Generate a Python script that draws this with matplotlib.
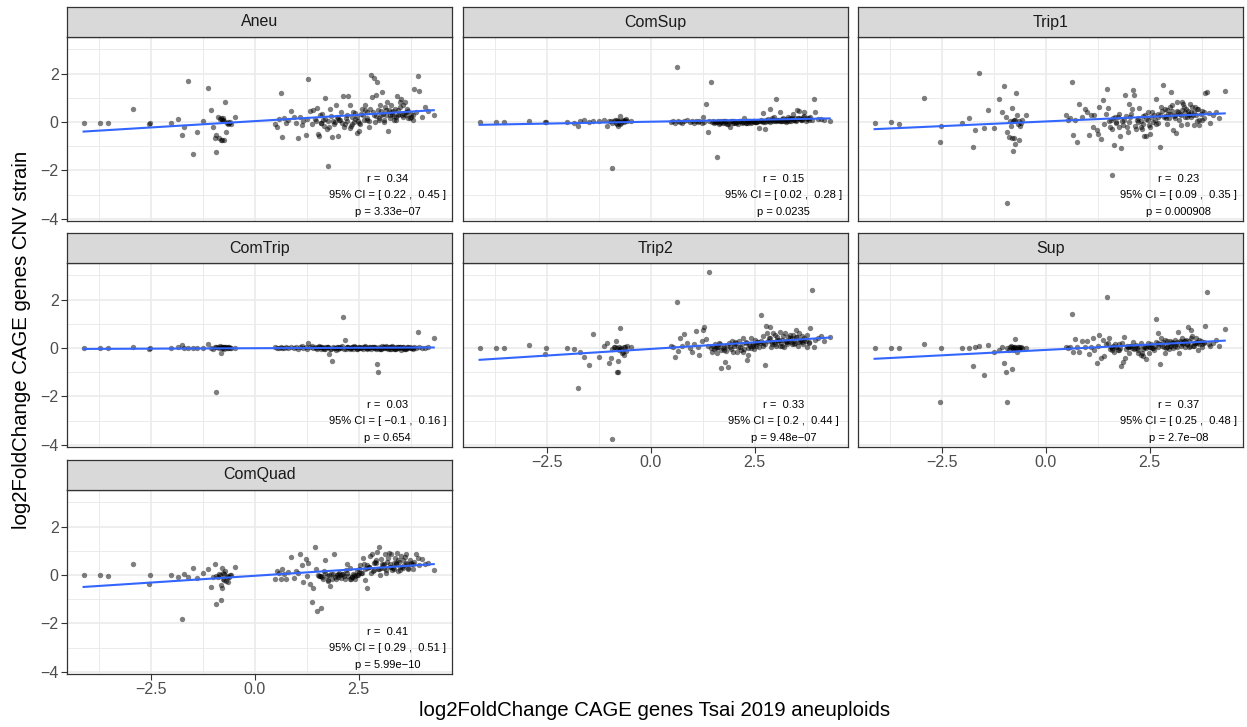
import numpy as np
import matplotlib
matplotlib.use("Agg")
import matplotlib.pyplot as plt

plt.rcParams['font.family'] = ['Liberation Sans', 'DejaVu Sans']

# facet order as in the figure (facet_wrap, 3 columns)
panels = ["Aneu", "ComSup", "Trip1", "ComTrip", "Trip2", "Sup", "ComQuad"]

# x: log2FoldChange of CAGE genes in Tsai 2019 aneuploids (same genes in every panel)
x_left = [-4.13, -3.73, -3.53, -2.93, -2.55, -2.52, -2.02, -1.85, -1.77, -1.70,
          -1.62, -1.50, -1.40, -1.25, -1.12, -1.05, -1.00, -0.97, -0.95, -0.93,
          -0.90, -0.87, -0.85, -0.83, -0.82, -0.80, -0.79, -0.78, -0.76, -0.75,
          -0.74, -0.72, -0.70, -0.68, -0.66, -0.65, -0.62, -0.60, -0.58, -0.47]
x_right = [0.48, 0.53, 0.57, 0.63, 0.66, 0.71, 0.75, 0.80, 0.86, 0.93,
           0.98, 1.04, 1.09, 1.13, 1.17, 1.22, 1.26, 1.29, 1.33, 1.37,
           1.40, 1.44, 1.47, 1.50, 1.52, 1.55, 1.59, 1.61, 1.64, 1.68,
           1.70, 1.73, 1.77, 1.79, 1.82, 1.86, 1.88, 1.91, 1.95, 1.98,
           2.01, 2.03, 2.07, 2.10, 2.12, 2.16, 2.19, 2.21, 2.25, 2.28,
           2.31, 2.33, 2.36, 2.40, 2.42, 2.45, 2.49, 2.51, 2.54, 2.58,
           2.60, 2.63, 2.66, 2.69, 2.71, 2.74, 2.78, 2.80, 2.83, 2.86,
           2.88, 2.91, 2.94, 2.97, 2.99, 3.02, 3.05, 3.07, 3.10, 3.13,
           3.15, 3.18, 3.21, 3.23, 3.26, 3.29, 3.31, 3.34, 3.37, 3.39,
           3.42, 3.45, 3.47, 3.50, 3.53, 3.56, 3.58, 3.61, 3.64, 3.67,
           3.70, 3.73, 3.77, 3.80, 3.84, 3.88, 3.92, 3.96, 4.02, 4.10,
           4.18, 4.31]
x_extra = [1.56, 1.66, 1.75, 1.84, 1.93, 2.05, 2.14, 2.23, 2.30, 2.38,
           2.47, 2.56, 2.65, 2.76, 2.85, 2.93, 3.00, 3.09, 3.17, 3.25,
           3.33, 3.41, 3.49, 3.55, 3.63, 3.69, 3.75, 1.60, 2.00, 2.35,
           2.52, 2.70, 2.90, 3.04, 3.12, 3.28, 3.36, 3.44, 3.59, 3.82]
tsai_x = np.array(x_left + x_right + x_extra)

# y: log2FoldChange of CAGE genes in each CNV strain
y_aneu = [-0.03, -0.03, -0.03, 0.54, -0.08, -0.03, -0.03, 0.12, -0.55, -0.19,
          1.71, -1.31, -0.41, 0.04, 1.42, 0.50, -0.19, -0.67, -0.54, -1.23,
          0.22, -0.68, 0.12, -0.74, 0.18, 0.08, -0.74, 0.15, 0.10, -0.74,
          0.05, 0.81, -0.40, -0.05, -0.02, -0.10, -0.05, 0.00, -0.08, 0.22,
          -0.10, -0.20, 0.14, 1.21, -0.62, 0.17, -0.04, 0.10, 0.45, 0.20,
          -0.04, -0.66, 0.20, -0.14, 0.05, -0.52, 0.12, 1.79, 0.45, -0.10,
          0.48, 0.14, 0.02, 0.59, -0.48, -0.58, -0.04, 0.34, 0.10, 0.99,
          0.14, -0.30, -1.83, -0.21, 0.55, -0.62, 0.05, -0.10, 0.69, 0.20,
          -0.58, 0.07, 0.41, -0.05, 1.06, -0.07, 0.17, 0.05, 1.06, 0.69,
          -0.18, -0.10, 0.41, 0.14, 0.37, -0.45, 0.04, -0.39, -0.10, 0.55,
          0.28, 0.10, 0.69, 0.07, 0.41, -0.21, 0.55, 1.93, 1.03, 0.28,
          1.83, 1.10, 1.65, 0.48, 0.07, 0.69, 0.28, 1.24, 0.00, 0.62,
          0.28, 0.83, -0.39, 0.48, 0.18, 0.69, 0.32, 0.07, 0.55, 0.20,
          1.06, 0.28, 0.35, 0.83, 0.96, 0.20, 0.69, 0.83, 0.30, 0.55,
          0.45, 0.15, 0.20, 0.30, 1.35, 0.40, 1.90, 1.28, 0.20, 0.62,
          0.45, 0.29,
          0.30, -0.15, 0.05, 0.25, 0.00, 0.10, -0.20, 0.30, -0.25, 0.00,
          0.20, 0.35, 0.50, 0.05, 0.40, 0.25, 0.15, 0.35, 0.50, 0.30,
          0.45, 0.10, 0.60, 0.30, 0.40, 0.15, 0.35, -0.05, 0.15, 0.20,
          -0.05, 0.15, 0.00, 0.45, 0.10, 0.40, 0.25, 0.50, 0.35, 0.10]
y_comsup = [0.00, 0.00, 0.00, 0.03, 0.00, -0.02, 0.00, -0.05, -0.15, 0.05,
            0.08, 0.00, 0.02, 0.04, 0.10, -0.15, 0.05, 0.03, -0.05, -1.89,
            0.02, 0.10, -0.05, 0.08, -0.10, 0.05, -0.15, 0.02, 0.00, -0.08,
            0.25, -0.05, 0.03, 0.10, 0.05, -0.02, 0.08, 0.12, 0.05, 0.03,
            0.00, 0.02, -0.03, 2.26, 0.05, 0.00, -0.05, 0.03, 0.08, 0.00,
            0.05, -0.03, 0.02, 0.00, 0.06, -0.05, 0.19, 0.00, 0.74, -0.40,
            0.05, 1.67, -0.02, 0.03, -0.05, 0.00, -1.43, 0.04, -0.08, 0.02,
            0.00, -0.06, 0.05, -0.03, 0.02, -0.10, 0.00, -0.22, 0.04, -0.05,
            0.03, -0.02, 0.00, -0.08, 0.05, 0.02, -0.04, 0.00, 0.15, -0.05,
            0.02, -0.03, 0.04, 0.00, -0.06, 0.05, 0.02, -0.02, 0.00, 0.06,
            -0.26, 0.03, 0.08, 0.39, 0.00, -0.30, 0.10, 0.05, 0.12, 0.52,
            0.00, 0.15, 0.05, 0.20, 0.08, 0.95, 0.02, 0.10, 0.43, 0.06,
            0.12, 0.18, 0.05, 0.10, 0.00, 0.08, 0.22, 0.15, 0.05, 0.12,
            0.33, 0.10, 0.18, 0.05, 0.50, 0.15, 0.45, 0.08, 0.12, 0.20,
            0.43, 0.05, 0.15, 0.10, 0.20, 0.08, 0.95, 0.43, 0.12, 0.12,
            0.10, 0.06,
            0.00, -0.05, 0.03, -0.08, 0.02, -0.03, 0.05, 0.00, -0.06, 0.02,
            0.04, -0.02, 0.06, 0.00, 0.05, 0.08, 0.03, 0.10, 0.06, 0.12,
            0.05, 0.15, 0.10, 0.18, 0.08, 0.25, 0.12, 0.00, -0.04, 0.03,
            0.00, 0.05, 0.08, 0.10, 0.04, 0.06, 0.14, 0.09, 0.12, 0.18]
y_trip1 = [-0.05, 0.01, -0.08, 1.00, -0.81, -0.17, -0.05, 0.18, -1.02, -0.33,
           2.01, -0.23, 0.50, -0.23, 0.95, 0.43, 1.50, 0.19, -0.40, -3.36,
           -0.60, 0.05, -0.15, -0.65, 0.59, 0.02, -1.20, -0.65, 0.10, -0.90,
           0.08, 1.18, 0.30, -0.10, -0.74, 0.05, -0.15, -0.05, 0.10, 0.29,
           0.28, 0.07, 0.15, 1.65, -0.52, 0.07, -0.83, 0.73, 0.21, 0.55,
           0.41, -0.55, 0.28, -0.21, 0.30, -0.34, -0.48, 0.62, -0.69, 0.90,
           -0.10, 0.34, 1.35, 0.59, 0.05, -0.21, -2.20, 0.15, -0.96, 0.00,
           -0.05, 0.20, 0.35, -0.59, -1.07, -0.12, 0.10, 1.10, -0.20, -0.40,
           0.75, 0.21, 0.55, 1.31, 1.10, -0.28, 0.07, 0.00, 0.59, -0.22,
           -0.28, -0.10, -0.56, -0.56, 0.14, 0.41, -0.14, -0.48, 0.20, 0.00,
           0.30, 0.10, 0.96, 0.21, -0.05, -1.03, 0.62, 0.45, 1.52, 0.55,
           0.23, -0.10, 0.35, 0.15, 0.60, 1.24, 0.70, -0.34, 0.18, -0.45,
           0.82, 0.41, 0.07, 0.35, -0.14, 0.82, 0.75, 0.41, 0.55, -0.07,
           0.45, 0.28, 0.75, 0.20, 0.62, -0.14, 0.40, 0.30, 0.05, 0.55,
           -0.14, 0.35, 0.10, 0.40, 1.20, 1.24, 0.38, -0.04, 0.30, 0.41,
           0.15, 1.27,
           0.10, 0.20, -0.20, 0.05, 0.25, 0.35, -0.15, 0.15, 0.05, 0.30,
           0.10, 0.40, -0.10, 0.30, 0.20, 0.50, 0.35, 0.25, 0.45, 0.30,
           0.60, 0.20, 0.40, 0.30, 0.55, 0.10, 0.45, -0.30, 0.00, 0.25,
           -0.20, 0.35, 0.15, 0.45, 0.30, 0.50, 0.20, 0.35, 0.60, 0.15]
y_comtrip = [0.00, 0.01, 0.01, 0.05, -0.03, 0.00, 0.01, 0.02, 0.11, 0.01,
             0.00, 0.00, 0.00, 0.01, 0.15, 0.00, -0.03, 0.05, 0.02, -1.83,
             0.04, 0.00, 0.08, -0.22, 0.03, -0.02, 0.06, 0.00, 0.04, -0.03,
             0.06, 0.02, 0.05, 0.00, 0.04, -0.02, 0.03, 0.00, 0.01, 0.01,
             0.02, 0.00, 0.01, 0.03, -0.02, 0.00, 0.05, 0.01, 0.03, 0.00,
             0.04, -0.03, 0.02, 0.08, 0.00, 0.05, -0.05, 0.22, 0.03, 0.10,
             -0.02, 0.06, 0.00, -0.05, 0.04, 0.08, -0.03, 0.02, 0.00, 0.05,
             -0.06, 0.02, 0.06, -0.26, -0.03, -0.54, 0.04, 0.00, -0.08, 0.03,
             0.05, -0.02, 0.00, 0.08, 1.27, 0.33, -0.04, 0.02, 0.06, -0.05,
             0.00, 0.04, -0.06, 0.02, 0.05, -0.03, 0.00, 0.06, -0.02, 0.03,
             -0.05, 0.02, 0.08, 0.00, -0.04, 0.05, 0.02, -0.06, 0.03, 0.00,
             0.06, -0.03, -0.66, -0.98, 0.04, 0.00, -0.05, 0.07, 0.02, -0.02,
             0.04, 0.00, -0.06, 0.05, 0.02, -0.03, 0.08, 0.00, -0.05, 0.03,
             0.00, 0.05, -0.02, 0.06, -0.08, 0.02, 0.04, -0.04, 0.00, 0.03,
             -0.02, 0.05, 0.00, -0.03, 0.02, 0.00, 0.66, 0.03, -0.02, 0.00,
             0.02, 0.40,
             0.02, -0.03, 0.05, -0.05, 0.00, 0.04, -0.06, 0.03, 0.00, 0.08,
             -0.04, 0.00, 0.05, -0.02, 0.06, 0.00, -0.05, 0.03, 0.07, -0.03,
             0.02, -0.06, 0.04, 0.00, -0.03, 0.05, 0.00, 0.06, -0.04, 0.02,
             0.05, -0.02, 0.03, -0.05, 0.00, 0.04, -0.03, 0.02, -0.06, 0.00]
y_trip2 = [0.00, 0.01, 0.00, 0.12, -0.26, 0.01, 0.01, -0.05, -1.64, -0.18,
           -0.39, -0.70, 0.58, -0.36, 0.08, 0.22, -0.62, -0.43, -0.05, -3.77,
           0.03, 0.05, 0.29, -0.02, -0.98, -0.98, -0.52, 0.05, -0.10, 0.84,
           -0.05, 0.00, -0.20, -0.15, 0.02, -0.30, 0.05, -0.12, 0.10, 0.05,
           0.07, 0.05, -0.39, 1.90, -0.14, 0.41, 0.10, 0.59, 0.20, 0.00,
           -0.18, 0.15, 0.69, 0.05, -0.28, 0.30, 0.75, 0.87, 0.38, 0.10,
           3.14, 0.00, -0.18, 0.10, -0.05, 0.15, -0.20, 0.05, 0.20, -0.10,
           -0.83, 0.00, 0.05, -0.59, -0.12, -0.79, 0.20, 0.05, 0.30, -0.15,
           0.10, 0.25, -0.15, 0.03, 0.30, -0.10, 0.15, 0.40, -0.05, 0.20,
           -0.48, -0.28, 0.18, 0.00, 0.40, 0.18, -0.05, 0.35, 0.10, 0.25,
           0.05, 0.20, 1.35, 0.48, 0.10, -0.69, 0.90, 0.60, 0.30, 0.85,
           0.40, 0.15, 0.60, 0.25, 0.55, 0.10, 0.45, 0.30, 0.65, 0.20,
           0.35, 0.50, 0.05, 0.60, 0.30, 0.15, 0.45, 0.55, 0.25, 0.40,
           0.55, 0.30, 0.20, 0.76, 0.45, 0.60, 0.25, 0.35, 0.50, 0.15,
           0.40, 0.30, 0.55, 0.25, 0.83, 2.41, 0.05, 0.35, 0.40, 0.51,
           0.30, 0.45,
           0.00, 0.15, -0.10, 0.10, -0.05, 0.20, 0.05, -0.15, 0.25, 0.10,
           0.10, 0.25, 0.30, 0.15, 0.40, 0.25, 0.15, 0.35, 0.10, 0.25,
           0.30, 0.15, 0.45, 0.10, 0.25, 0.35, 0.05, 0.05, 0.15, 0.00,
           0.15, 0.20, 0.05, 0.35, 0.10, 0.25, 0.40, 0.15, 0.30, 0.20]
y_sup = [0.00, 0.00, 0.00, 0.18, -2.22, 0.00, 0.00, 0.00, -0.74, 0.02,
         0.08, -1.12, 0.11, -0.15, -0.10, 0.02, -0.61, -1.00, 0.01, -2.22,
         -0.10, 0.02, 0.08, -0.88, 0.04, 0.00, -0.08, 0.05, -0.05, 0.03,
         0.36, 0.00, -0.15, 0.05, -0.03, 0.02, 0.00, 0.03, 0.00, 0.01,
         0.03, 0.00, 0.06, 1.39, -0.18, 0.37, 0.05, -0.15, 0.30, 0.02,
         0.29, -0.25, 0.05, 0.40, -0.10, -0.63, 0.10, 0.54, -0.43, 0.35,
         -0.35, 0.15, 2.09, 0.20, 0.40, -0.05, 0.00, 0.10, -0.15, 0.05,
         0.02, -0.10, 0.15, 0.00, -0.73, -0.56, 0.47, -0.40, 0.10, 0.05,
         -0.20, 0.08, 0.00, 0.25, -0.05, 0.12, 0.00, -0.22, 0.08, -0.30,
         -0.22, -0.35, 0.05, -0.47, 0.00, 0.22, -0.20, 0.05, 0.15, 0.00,
         -0.10, 0.10, 1.20, 0.05, 0.60, -0.66, 0.40, 0.08, 0.25, -0.20,
         0.35, 0.05, 0.15, -0.05, 0.30, 0.10, 0.20, 0.00, 0.35, 0.15,
         0.25, 0.67, -0.20, 0.30, 0.10, 0.40, 0.20, 0.05, 0.35, 0.15,
         0.85, 0.30, 0.10, 0.74, 0.50, 0.20, 0.10, 0.40, 0.25, -0.10,
         0.15, 0.30, 0.05, 0.20, 0.91, 2.30, 0.15, 0.10, 0.20, 0.33,
         0.10, 0.79,
         0.05, 0.15, -0.10, 0.20, -0.05, 0.10, 0.00, -0.10, 0.20, 0.05,
         0.10, 0.00, 0.25, 0.15, 0.05, 0.30, 0.10, 0.20, 0.05, 0.25,
         0.30, 0.15, 0.40, 0.10, 0.20, 0.35, 0.15, -0.10, 0.05, -0.05,
         0.05, 0.20, 0.00, 0.25, 0.10, 0.15, 0.30, 0.05, 0.20, 0.25]
y_comquad = [0.00, 0.00, -0.04, 0.44, -0.39, 0.00, 0.00, -0.08, -1.83, 0.06,
             -0.10, 0.28, -0.14, 0.10, 0.23, -0.50, -0.10, 0.44, -0.05, -1.21,
             -0.08, 0.05, 0.00, -0.40, -1.05, -0.52, 0.30, 0.10, -0.15, 0.05,
             -0.20, 0.15, -0.25, -0.05, -0.30, -0.10, -0.08, 0.00, -0.02, 0.34,
             -0.18, 0.17, 0.10, -0.18, 0.23, 0.05, -0.18, 0.12, 0.74, -0.14,
             0.15, 0.10, 0.88, 0.40, -0.28, 0.65, -0.05, 0.51, -0.39, -1.10,
             -0.52, 1.17, 0.25, -1.49, 0.00, -0.05, -1.35, -0.10, -0.15, 0.10,
             0.61, -0.05, -0.25, 0.00, -0.45, -0.18, 0.05, 0.85, -0.15, 0.00,
             -0.08, 0.10, -0.12, 0.05, 0.02, -0.15, 0.20, 0.44, -0.05, 0.30,
             -0.15, -0.10, 0.05, -0.05, -0.18, 0.15, 0.00, 0.25, 0.40, 0.10,
             0.72, 0.45, -0.20, 0.30, -0.52, 0.35, 0.80, 0.10, 0.88, 0.50,
             0.20, 0.60, 0.96, 0.25, 1.16, 0.00, 0.65, 0.45, 0.30, 0.85,
             0.10, 0.55, 0.70, 0.92, 0.35, 0.88, 0.20, 0.50, 0.70, 0.45,
             0.92, 0.15, 0.55, 0.35, 0.80, 0.60, 0.30, 0.75, 0.88, 0.45,
             0.30, 0.60, 0.50, 0.25, 0.55, 0.88, 0.70, 0.40, 0.65, 0.44,
             0.50, 0.19,
             -0.05, 0.15, -0.20, 0.05, -0.10, 0.00, -0.05, 0.10, -0.15, -0.02,
             0.00, 0.10, 0.25, 0.35, 0.15, 0.50, 0.25, 0.40, 0.20, 0.45,
             0.30, 0.50, 0.20, 0.35, 0.50, 0.25, 0.45, -0.05, 0.02, -0.08,
             0.10, 0.40, 0.55, 0.30, 0.45, 0.35, 0.25, 0.60, 0.40, 0.45]
cnv_y = [y_aneu, y_comsup, y_trip1, y_comtrip, y_trip2, y_sup, y_comquad]

# correlation labels
r_vals = ["0.34", "0.15", "0.23", "0.03", "0.33", "0.37", "0.41"]
ci_low = ["0.22", "0.02", "0.09", "\u22120.1", "0.2", "0.25", "0.29"]
ci_high = ["0.45", "0.28", "0.35", "0.16", "0.44", "0.48", "0.51"]
p_vals = ["3.33e\u221207", "0.0235", "0.000908", "0.654", "9.48e\u221207",
          "2.7e\u221208", "5.99e\u221210"]

W, H = 1247, 727
fig = plt.figure(figsize=(W / 100, H / 100), dpi=100)

col_left = [67, 463, 858]
row_top = [37, 263, 490]
pw, ph, strip_h = 385, 184, 30
border = "#333333"

for i, name in enumerate(panels):
    r, c = divmod(i, 3)
    left, top = col_left[c], row_top[r]
    ax = fig.add_axes([left / W, 1 - (top + ph) / H, pw / W, ph / H])
    ax.set_xlim(-4.53, 4.75)
    ax.set_ylim(-4.09, 3.51)
    ax.set_xticks([-2.5, 0.0, 2.5])
    ax.set_xticks([-3.75, -1.25, 1.25, 3.75], minor=True)
    ax.set_yticks([-4, -2, 0, 2])
    ax.set_yticks([-3, -1, 1, 3], minor=True)
    ax.grid(which="major", color="#EBEBEB", linewidth=1.2)
    ax.grid(which="minor", color="#EBEBEB", linewidth=0.7)
    ax.set_axisbelow(True)
    for s in ax.spines.values():
        s.set_color(border)
        s.set_linewidth(0.9)

    y = np.array(cnv_y[i])
    ax.scatter(tsai_x, y, s=15, color="black", alpha=0.5, linewidths=0, zorder=2)

    # linear fit, like geom_smooth(method = "lm", se = FALSE)
    slope, icpt = np.polyfit(tsai_x, y, 1)
    xs = np.array([tsai_x.min(), tsai_x.max()])
    ax.plot(xs, slope * xs + icpt, color="#3366FF", linewidth=1.5, zorder=3)

    ax.text(3.2, -2.34, "r =  " + r_vals[i], ha="center", va="center", fontsize=8)
    ax.text(3.2, -3.03, "95% CI = [ " + ci_low[i] + " ,  " + ci_high[i] + " ]",
            ha="center", va="center", fontsize=8)
    ax.text(3.2, -3.70, "p = " + p_vals[i], ha="center", va="center", fontsize=8)

    show_x = (r == 2) or (r == 1 and c > 0)
    show_y = c == 0
    ax.tick_params(which="minor", length=0)
    ax.tick_params(axis="x", which="major", length=4 if show_x else 0, color=border,
                   labelbottom=show_x, labelsize=11.5, labelcolor="#4D4D4D", pad=2)
    ax.tick_params(axis="y", which="major", length=4 if show_y else 0, color=border,
                   labelleft=show_y, labelsize=11.5, labelcolor="#4D4D4D", pad=2)
    if show_x:
        ax.set_xticklabels(["\u22122.5", "0.0", "2.5"])

    sax = fig.add_axes([left / W, 1 - top / H, pw / W, strip_h / H])
    sax.set_facecolor("#D9D9D9")
    sax.set_xticks([])
    sax.set_yticks([])
    for s in sax.spines.values():
        s.set_color(border)
        s.set_linewidth(0.9)
    sax.text(0.5, 0.5, name, ha="center", va="center", fontsize=11.5,
             color="#1A1A1A", transform=sax.transAxes)

fig.text(655 / W, 1 - 710 / H, "log2FoldChange CAGE genes Tsai 2019 aneuploids",
         ha="center", va="center", fontsize=14.7)
fig.text(22 / W, 1 - 340 / H, "log2FoldChange CAGE genes CNV strain",
         ha="center", va="center", rotation=90, fontsize=14.7)

fig.savefig("out.png", dpi=100)
